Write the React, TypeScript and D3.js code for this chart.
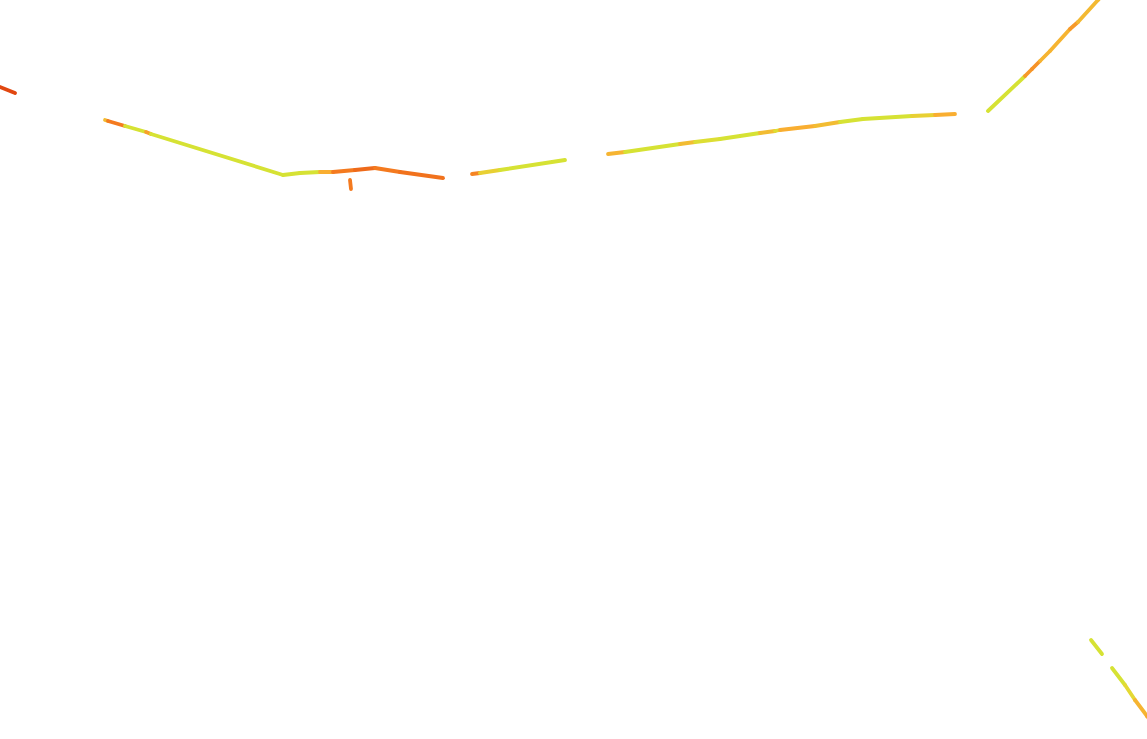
import React from "react";
import * as d3 from "d3";

// Route traces: easting / northing (map units, metres) and segment speed (km/h)
type Pt = [number, number, number];

const routeWest: Pt[] = [
  [-100, 6560, 12],
  [150, 6460, 12],
];

const routeMain: Pt[] = [
  [1050, 6190, 45],
  [1080, 6180, 25],
  [1250, 6130, 65],
  [1460, 6070, 36],
  [1510, 6050, 65],
  [2830, 5640, 65],
  [3000, 5660, 65],
  [3200, 5670, 40],
  [3330, 5670, 25],
  [3550, 5690, 21],
  [3750, 5710, 25],
  [4000, 5670, 23],
  [4430, 5610, 23],
];

const routeSpur: Pt[] = [
  [3500, 5590, 25],
  [3510, 5500, 25],
];

const routeMid: Pt[] = [
  [4720, 5650, 28],
  [4800, 5660, 52],
  [5000, 5690, 65],
  [5650, 5790, 65],
];

const routeEast: Pt[] = [
  [6080, 5850, 42],
  [6250, 5870, 65],
  [6800, 5950, 45],
  [6950, 5970, 60],
  [7200, 6000, 65],
  [7600, 6060, 45],
  [7750, 6080, 60],
  [7800, 6090, 40],
  [8150, 6130, 45],
  [8400, 6170, 65],
  [8630, 6200, 65],
  [9120, 6230, 52],
  [9350, 6240, 40],
  [9550, 6250, 40],
];

const routeNorth: Pt[] = [
  [9880, 6280, 65],
  [10250, 6630, 34],
  [10320, 6700, 32],
  [10400, 6780, 42],
  [10500, 6880, 42],
  [10700, 7100, 34],
  [10780, 7170, 44],
  [10980, 7390, 44],
  [11060, 7470, 44],
];

const routeSouthA: Pt[] = [
  [10910, 990, 65],
  [11020, 850, 65],
];

const routeSouthB: Pt[] = [
  [11120, 710, 65],
  [11250, 540, 55],
  [11350, 390, 42],
  [11470, 230, 38],
  [11560, 110, 38],
];

const routes: Pt[][] = [
  routeWest,
  routeMain,
  routeSpur,
  routeMid,
  routeEast,
  routeNorth,
  routeSouthA,
  routeSouthB,
];

const speedStops = [10, 25, 40, 55, 65];
const speedColors = ["#de3f0e", "#f47a1f", "#f9ae31", "#e4d934", "#d6e234"];

const W = 1147;
const H = 739;

export default function App() {
  const x = d3.scaleLinear().domain([0, 11470]).range([0, W]);
  const y = d3.scaleLinear().domain([0, 7390]).range([H, 0]);
  const color = d3
    .scaleLinear<string>()
    .domain(speedStops)
    .range(speedColors)
    .clamp(true);

  const segs: { x1: number; y1: number; x2: number; y2: number; c: string; k: string }[] = [];
  routes.forEach((r, ri) => {
    for (let i = 0; i < r.length - 1; i++) {
      segs.push({
        x1: x(r[i][0]),
        y1: y(r[i][1]),
        x2: x(r[i + 1][0]),
        y2: y(r[i + 1][1]),
        c: color(r[i][2]),
        k: `${ri}-${i}`,
      });
    }
  });

  return (
    <svg
      width={W}
      height={H}
      style={{ position: "absolute", left: 0, top: 0, background: "#ffffff" }}
    >
      {segs.map((s) => (
        <line
          key={s.k}
          x1={s.x1}
          y1={s.y1}
          x2={s.x2}
          y2={s.y2}
          stroke={s.c}
          strokeWidth={3.8}
          strokeLinecap="round"
        />
      ))}
    </svg>
  );
}
